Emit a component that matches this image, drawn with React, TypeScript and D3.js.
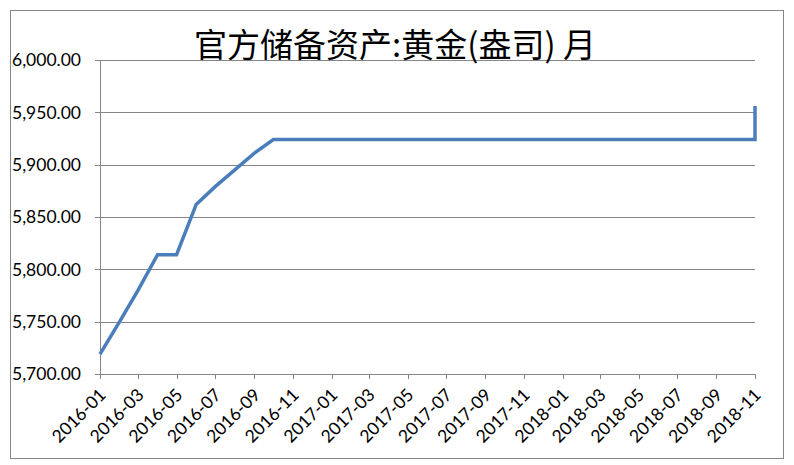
import React, { useEffect, useRef } from 'react';
import * as d3 from 'd3';

// monthly observations, 2016-01 .. 2018-11
const months = [
  '2016-01', '2016-02', '2016-03', '2016-04', '2016-05', '2016-06', '2016-07',
  '2016-08', '2016-09', '2016-10', '2016-11', '2016-12',
  '2017-01', '2017-02', '2017-03', '2017-04', '2017-05', '2017-06', '2017-07',
  '2017-08', '2017-09', '2017-10', '2017-11', '2017-12',
  '2018-01', '2018-02', '2018-03', '2018-04', '2018-05', '2018-06', '2018-07',
  '2018-08', '2018-09', '2018-10', '2018-11',
];
const gold = [
  5719, 5750, 5780, 5814, 5814, 5862, 5879, 5895, 5911, 5924, 5924, 5924,
  5924, 5924, 5924, 5924, 5924, 5924, 5924, 5924, 5924, 5924, 5924, 5924,
  5924, 5924, 5924, 5924, 5924, 5924, 5924, 5924, 5924, 5924, 5924,
];
// latest reading, drawn at the last month of the axis
const latestMonth = '2018-11';
const latestValue = 5956;

const yTicks = [5700, 5750, 5800, 5850, 5900, 5950, 6000];
const title = '官方储备资产:黄金(盎司) 月';

const W = 794;
const H = 465;

const App: React.FC = () => {
  const ref = useRef<SVGSVGElement>(null);

  useEffect(() => {
    if (!ref.current) return;
    const svg = d3.select(ref.current);
    svg.selectAll('*').remove();

    const margin = { top: 60, right: 39, bottom: 91, left: 100 };
    const width = W - margin.left - margin.right;
    const height = H - margin.top - margin.bottom;
    const parse = d3.timeParse('%Y-%m');

    const x = d3.scaleTime()
      .domain([parse(months[0]) as Date, parse(months[months.length - 1]) as Date])
      .range([0, width]);
    const y = d3.scaleLinear().domain([5700, 6000]).range([height, 0]);

    const grey = '#868686';

    // outer frame
    svg.append('rect')
      .attr('x', 10.5).attr('y', 10.5)
      .attr('width', 773).attr('height', 448)
      .attr('fill', 'white').attr('stroke', grey).attr('stroke-width', 1);

    const g = svg.append('g').attr('transform', `translate(${margin.left},${margin.top})`);

    // gridlines
    g.append('g').selectAll('line').data(yTicks).join('line')
      .attr('x1', -5).attr('x2', width)
      .attr('y1', d => Math.round(y(d)) + 0.5).attr('y2', d => Math.round(y(d)) + 0.5)
      .attr('stroke', grey).attr('stroke-width', 1);

    // y axis line
    g.append('line')
      .attr('x1', 0.5).attr('x2', 0.5).attr('y1', 0).attr('y2', height + 5)
      .attr('stroke', grey);

    // y labels
    g.append('g').selectAll('text').data(yTicks).join('text')
      .attr('x', -19).attr('y', d => y(d))
      .attr('dy', '0.36em')
      .attr('text-anchor', 'end')
      .attr('font-family', 'Lato, sans-serif')
      .attr('font-size', 17.5)
      .attr('fill', '#000')
      .text(d => d3.format(',.2f')(d));

    // x ticks every two months
    const xTicks = months.filter((_, i) => i % 2 === 0).map(m => parse(m) as Date);
    g.append('g').selectAll('line').data(xTicks).join('line')
      .attr('x1', d => Math.round(x(d)) + 0.5).attr('x2', d => Math.round(x(d)) + 0.5)
      .attr('y1', height).attr('y2', height + 5)
      .attr('stroke', grey);

    const fmt = d3.timeFormat('%Y-%m');
    g.append('g').selectAll('text').data(xTicks).join('text')
      .attr('transform', d => `translate(${x(d) + 7},${height + 22}) rotate(-45)`)
      .attr('text-anchor', 'end')
      .attr('font-family', 'Lato, sans-serif')
      .attr('font-size', 17.5)
      .attr('fill', '#000')
      .text(d => fmt(d));

    // series line
    const pts: [Date, number][] = months.map((m, i) => [parse(m) as Date, gold[i]]);
    pts.push([parse(latestMonth) as Date, latestValue]);
    const line = d3.line<[Date, number]>().x(d => x(d[0])).y(d => y(d[1]));
    g.append('path')
      .datum(pts)
      .attr('fill', 'none')
      .attr('stroke', '#4a7ebb')
      .attr('stroke-width', 3.5)
      .attr('stroke-linejoin', 'miter')
      .attr('d', line);

    // title
    svg.append('text')
      .attr('x', 395).attr('y', 57)
      .attr('text-anchor', 'middle')
      .attr('font-family', '"Noto Sans CJK SC", sans-serif')
      .attr('font-size', 33)
      .attr('fill', '#000')
      .text(title);
  }, []);

  return (
    <svg
      ref={ref}
      width={W}
      height={H}
      style={{ position: 'absolute', left: 0, top: 0, background: 'white' }}
    />
  );
};

export default App;
